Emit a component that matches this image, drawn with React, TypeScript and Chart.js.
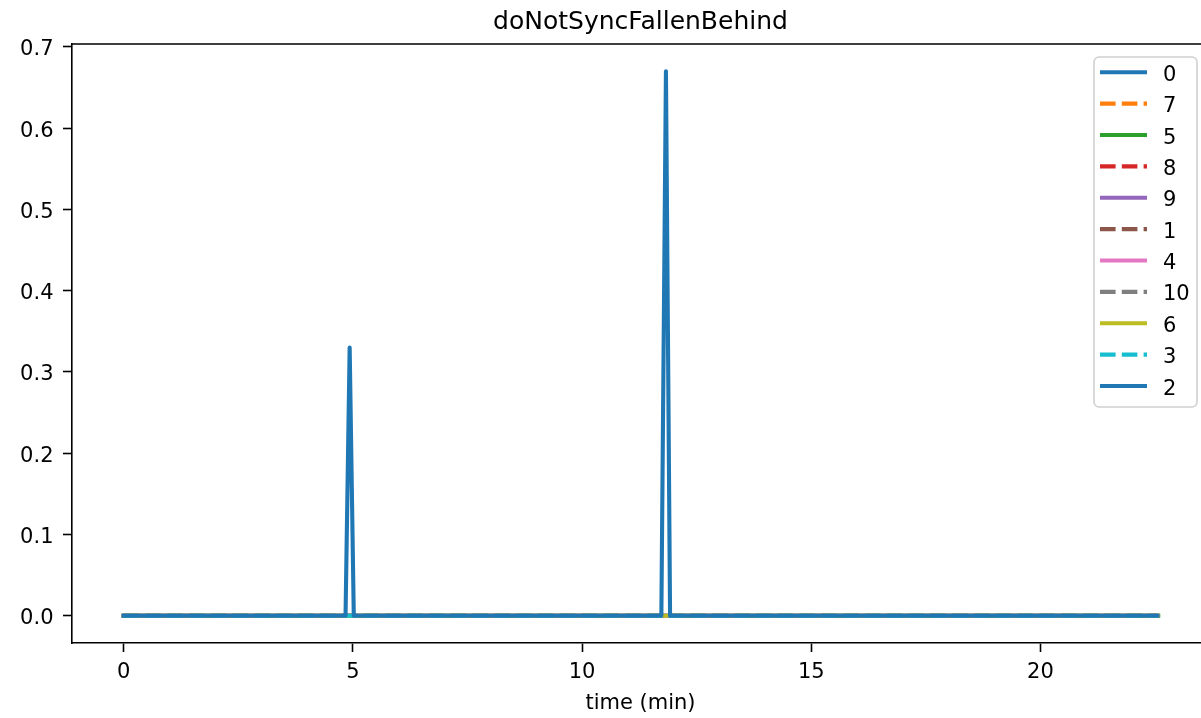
import React, { useEffect, useRef } from "react";
import { Chart, registerables } from "chart.js";

Chart.register(...registerables);

// ---- data ----
const seriesNames = ["0", "7", "5", "8", "9", "1", "4", "10", "6", "3", "2"];
const seriesColors = [
  "#1f77b4", "#ff7f0e", "#2ca02c", "#d62728", "#9467bd", "#8c564b",
  "#e377c2", "#7f7f7f", "#bcbd22", "#17becf", "#1f77b4",
];
const seriesDashed = [false, true, false, true, false, true, false, true, false, true, false];

const flatTimes = [0, 22.55];
const flatValues = [0, 0];
const greenTimes = [0, 22.57];
const greenValues = [0, 0];
const spikeTimes = [0, 4.84, 4.93, 5.02, 11.73, 11.83, 11.92, 22.55];
const spikeValues = [0, 0, 0.33, 0, 0, 0.67, 0, 0];

const xTicks = [0, 5, 10, 15, 20];
const xTickLabels = ["0", "5", "10", "15", "20"];
const yTicks = [0, 0.1, 0.2, 0.3, 0.4, 0.5, 0.6, 0.7];
const yTickLabels = ["0.0", "0.1", "0.2", "0.3", "0.4", "0.5", "0.6", "0.7"];

const titleText = "doNotSyncFallenBehind";
const xAxisLabel = "time (min)";

const FONT = '"DejaVu Sans", sans-serif';
const LINE_W = 4.1;
const DASH = [15.6, 6.2];

function seriesPoints(i: number) {
  let t = flatTimes;
  let v = flatValues;
  if (seriesNames[i] === "2") {
    t = spikeTimes;
    v = spikeValues;
  } else if (seriesNames[i] === "5") {
    t = greenTimes;
    v = greenValues;
  }
  return t.map((x, k) => ({ x, y: v[k] }));
}

const decorPlugin = {
  id: "decor",
  afterDraw(chart: any) {
    const ctx = chart.ctx as CanvasRenderingContext2D;
    const area = chart.chartArea;
    const xs = chart.scales.x;
    const ys = chart.scales.y;
    ctx.save();

    // top & right spines
    ctx.strokeStyle = "#000";
    ctx.lineWidth = 1.6;
    ctx.beginPath();
    ctx.moveTo(area.left - 0.8, area.top);
    ctx.lineTo(area.right + 0.8, area.top);
    ctx.moveTo(area.right, area.top);
    ctx.lineTo(area.right, area.bottom);
    ctx.stroke();

    ctx.fillStyle = "#000";
    // title
    ctx.font = `25px ${FONT}`;
    ctx.textAlign = "center";
    ctx.textBaseline = "alphabetic";
    ctx.fillText(titleText, (area.left + area.right) / 2, 28.5);

    // x tick labels
    ctx.font = `21px ${FONT}`;
    xTicks.forEach((v, k) => {
      ctx.fillText(xTickLabels[k], xs.getPixelForValue(v), 678);
    });
    // x axis label
    ctx.fillText(xAxisLabel, (area.left + area.right) / 2, 709);

    // y tick labels
    ctx.textAlign = "right";
    yTicks.forEach((v, k) => {
      ctx.fillText(yTickLabels[k], 53.5, ys.getPixelForValue(v) + 8.5);
    });

    // legend
    const lx = 1094, ly = 57, lw = 103, lh = 350, r = 5;
    ctx.beginPath();
    ctx.moveTo(lx + r, ly);
    ctx.arcTo(lx + lw, ly, lx + lw, ly + lh, r);
    ctx.arcTo(lx + lw, ly + lh, lx, ly + lh, r);
    ctx.arcTo(lx, ly + lh, lx, ly, r);
    ctx.arcTo(lx, ly, lx + lw, ly, r);
    ctx.closePath();
    ctx.fillStyle = "rgba(255,255,255,0.8)";
    ctx.fill();
    ctx.strokeStyle = "#d0d0d0";
    ctx.lineWidth = 1.6;
    ctx.stroke();

    ctx.textAlign = "left";
    seriesNames.forEach((name, i) => {
      const y = 72.3 + i * 31.37;
      ctx.beginPath();
      ctx.strokeStyle = seriesColors[i];
      ctx.lineWidth = LINE_W;
      ctx.lineCap = "butt";
      ctx.setLineDash(seriesDashed[i] ? DASH : []);
      ctx.moveTo(1100, y);
      ctx.lineTo(1147, y);
      ctx.stroke();
      ctx.setLineDash([]);
      ctx.fillStyle = "#000";
      ctx.fillText(name, 1163, y + 8.5);
    });

    ctx.restore();
  },
};

export default function App() {
  const ref = useRef<HTMLCanvasElement>(null);

  useEffect(() => {
    document.body.style.margin = "0";
    document.body.style.overflow = "hidden";
    const canvas = ref.current;
    if (!canvas) return;
    const n = seriesNames.length;
    const chart = new Chart(canvas, {
      type: "line",
      data: {
        datasets: seriesNames.map((name, i) => ({
          label: name,
          data: seriesPoints(i),
          borderColor: seriesColors[i],
          backgroundColor: seriesColors[i],
          borderWidth: LINE_W,
          borderDash: seriesDashed[i] ? DASH : [],
          borderJoinStyle: "round" as const,
          borderCapStyle: seriesDashed[i] ? ("butt" as const) : ("square" as const),
          pointRadius: 0,
          tension: 0,
          fill: false,
          order: n - i,
        })),
      },
      options: {
        animation: false,
        responsive: false,
        events: [],
        layout: { padding: { top: 44, right: 3, left: 0, bottom: 0 } },
        plugins: {
          legend: { display: false },
          title: { display: false },
          tooltip: { enabled: false },
        },
        scales: {
          x: {
            type: "linear",
            min: -1.1275,
            max: 23.6775,
            afterBuildTicks: (scale: any) => {
              scale.ticks = xTicks.map((v) => ({ value: v }));
            },
            afterFit: (scale: any) => {
              scale.height = 75;
            },
            ticks: { display: false },
            grid: {
              drawOnChartArea: false,
              drawTicks: true,
              tickLength: 9,
              tickWidth: 1.6,
              tickColor: "#000",
              color: "#000",
            },
            border: { display: true, color: "#000", width: 1.6 },
          },
          y: {
            type: "linear",
            min: -0.0335,
            max: 0.7035,
            afterBuildTicks: (scale: any) => {
              scale.ticks = yTicks.map((v) => ({ value: v }));
            },
            afterFit: (scale: any) => {
              scale.width = 72;
            },
            ticks: { display: false },
            grid: {
              drawOnChartArea: false,
              drawTicks: true,
              tickLength: 9,
              tickWidth: 1.6,
              tickColor: "#000",
              color: "#000",
            },
            border: { display: true, color: "#000", width: 1.6 },
          },
        },
      },
      plugins: [decorPlugin],
    });
    return () => chart.destroy();
  }, []);

  return (
    <div style={{ width: 1212, height: 718, background: "#fff" }}>
      <canvas ref={ref} width={1212} height={718} style={{ display: "block" }} />
    </div>
  );
}
